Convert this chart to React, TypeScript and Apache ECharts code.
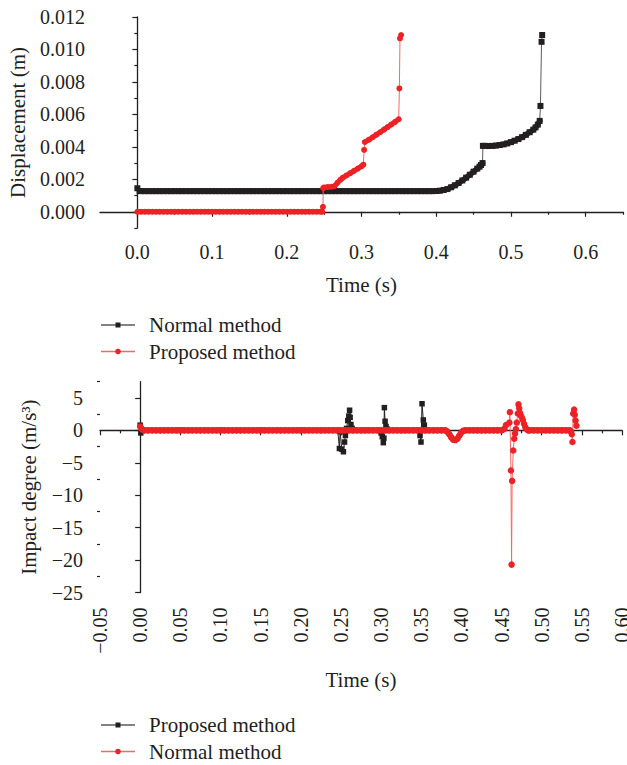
import React, { useEffect, useRef } from 'react';
import * as echarts from 'echarts';

const INK = '#231f20';
const RED = '#ec2227';
const INK_LINE = '#5a5a5a';
const RED_LINE = '#f06a6a';
const FONT = '"Liberation Serif", "DejaVu Serif", serif';

type Pt = [number, number];

// ---------- Top chart: displacement (m) vs time (s), normal method ----------
const dispNormalStart: Pt[] = [[0, 0.00145]];
const dispNormalLower: Pt[] = [
  [0.003, 0.00128],
  [0.005, 0.00127], [0.01, 0.00127], [0.015, 0.00127], [0.02, 0.00127], [0.025, 0.00127], [0.03, 0.00127], [0.035, 0.00127], [0.04, 0.00127], [0.045, 0.00127], [0.05, 0.00127],
  [0.055, 0.00127], [0.06, 0.00127], [0.065, 0.00127], [0.07, 0.00127], [0.075, 0.00127], [0.08, 0.00127], [0.085, 0.00127], [0.09, 0.00127], [0.095, 0.00127], [0.1, 0.00127],
  [0.105, 0.00127], [0.11, 0.00127], [0.115, 0.00127], [0.12, 0.00127], [0.125, 0.00127], [0.13, 0.00127], [0.135, 0.00127], [0.14, 0.00127], [0.145, 0.00127], [0.15, 0.00127],
  [0.155, 0.00127], [0.16, 0.00127], [0.165, 0.00127], [0.17, 0.00127], [0.175, 0.00127], [0.18, 0.00127], [0.185, 0.00127], [0.19, 0.00127], [0.195, 0.00127], [0.2, 0.00127],
  [0.205, 0.00127], [0.21, 0.00127], [0.215, 0.00127], [0.22, 0.00127], [0.225, 0.00127], [0.23, 0.00127], [0.235, 0.00127], [0.24, 0.00127], [0.245, 0.00127], [0.25, 0.00127],
  [0.255, 0.00127], [0.26, 0.00127], [0.265, 0.00127], [0.27, 0.00127], [0.275, 0.00127], [0.28, 0.00127], [0.285, 0.00127], [0.29, 0.00127], [0.295, 0.00127], [0.3, 0.00127],
  [0.305, 0.00127], [0.31, 0.00127], [0.315, 0.00127], [0.32, 0.00127], [0.325, 0.00127], [0.33, 0.00127], [0.335, 0.00127], [0.34, 0.00127], [0.345, 0.00127], [0.35, 0.00127],
  [0.355, 0.00127], [0.36, 0.00127], [0.365, 0.00127], [0.37, 0.00127], [0.375, 0.00127], [0.38, 0.00127], [0.385, 0.00127], [0.39, 0.00127], [0.395, 0.00127],
  [0.4, 0.00128], [0.405, 0.0013], [0.41, 0.00134], [0.415, 0.0014], [0.42, 0.00151], [0.425, 0.00163], [0.43, 0.00177], [0.435, 0.00193], [0.44, 0.0021], [0.445, 0.00228],
  [0.45, 0.00247], [0.455, 0.00266], [0.458, 0.00278], [0.46, 0.00288], [0.462, 0.003],
];
const dispNormalUpper: Pt[] = [
  [0.4625, 0.00406], [0.465, 0.00406], [0.47, 0.00405], [0.475, 0.00406], [0.48, 0.00408], [0.485, 0.00411], [0.49, 0.00415], [0.495, 0.00421], [0.5, 0.00429],
  [0.505, 0.00438], [0.51, 0.00448], [0.515, 0.0046], [0.52, 0.00474], [0.525, 0.0049], [0.53, 0.00506], [0.533, 0.0052], [0.536, 0.00537], [0.5385, 0.0056],
];
const dispNormalJump: Pt[] = [[0.5395, 0.00652], [0.541, 0.01047], [0.5418, 0.01089]];

// ---------- Top chart: proposed method ----------
const dispProposedBase: Pt[] = [
  [0, 0], [0.005, 0], [0.01, 0], [0.015, 0], [0.02, 0], [0.025, 0], [0.03, 0], [0.035, 0], [0.04, 0], [0.045, 0], [0.05, 0],
  [0.055, 0], [0.06, 0], [0.065, 0], [0.07, 0], [0.075, 0], [0.08, 0], [0.085, 0], [0.09, 0], [0.095, 0], [0.1, 0],
  [0.105, 0], [0.11, 0], [0.115, 0], [0.12, 0], [0.125, 0], [0.13, 0], [0.135, 0], [0.14, 0], [0.145, 0], [0.15, 0],
  [0.155, 0], [0.16, 0], [0.165, 0], [0.17, 0], [0.175, 0], [0.18, 0], [0.185, 0], [0.19, 0], [0.195, 0], [0.2, 0],
  [0.205, 0], [0.21, 0], [0.215, 0], [0.22, 0], [0.225, 0], [0.23, 0], [0.235, 0], [0.24, 0], [0.245, 0], [0.2475, 0],
];
const dispProposedJump1: Pt[] = [[0.2484, 0.0003]];
const dispProposedMid: Pt[] = [
  [0.2488, 0.00146], [0.25, 0.0015], [0.255, 0.00152], [0.26, 0.00154], [0.264, 0.00158],
  [0.268, 0.0018], [0.272, 0.00198], [0.275, 0.0021], [0.28, 0.00224], [0.285, 0.00238], [0.29, 0.00252], [0.295, 0.00266], [0.3, 0.0028], [0.3025, 0.0029],
];
const dispProposedJump2: Pt[] = [[0.3035, 0.00381]];
const dispProposedUpper: Pt[] = [
  [0.3045, 0.0043], [0.31, 0.00444], [0.315, 0.00459], [0.32, 0.00475], [0.325, 0.0049], [0.33, 0.00506], [0.335, 0.00522],
  [0.34, 0.00538], [0.345, 0.00554], [0.3498, 0.0057],
];
const dispProposedJump3: Pt[] = [[0.3507, 0.0076], [0.3515, 0.01068], [0.353, 0.01089]];

// ---------- Bottom chart: impact degree (m/s^3), proposed method ----------
const impactProposed: Pt[] = [
  [0, 0.8], [0.0008, -0.4], [0.004, 0], [0.05, 0], [0.1, 0], [0.15, 0], [0.2, 0], [0.246, 0],
  [0.2481, -2.8], [0.249, -0.2], [0.251, -2.9], [0.2531, -3.3], [0.2545, -1.8], [0.2556, -0.8], [0.257, 0.3],
  [0.2585, 1.5], [0.2598, 2.2], [0.2608, 3.1], [0.2615, 2.0], [0.2625, 0.9], [0.264, 0.3], [0.266, 0],
  [0.28, 0], [0.298, 0], [0.3, -0.4], [0.3015, -1.0], [0.3028, -1.9], [0.3035, -1.2], [0.3041, 3.5], [0.305, 1.4],
  [0.3062, 0.6], [0.3075, 0.2], [0.309, 0],
  [0.33, 0], [0.346, 0], [0.3485, -0.8], [0.3497, -1.8], [0.351, 4.1], [0.3526, 1.6], [0.3539, 0.8], [0.3555, 0],
];

// ---------- Bottom chart: normal method ----------
const impactNormalStart: Pt[] = [[0, 0.6], [0.0015, 0.3], [0.003, 0.1]];
const impactNormalBase: Pt[] = [
  [0.005, 0], [0.01, 0], [0.015, 0], [0.02, 0], [0.025, 0], [0.03, 0], [0.035, 0], [0.04, 0], [0.045, 0], [0.05, 0],
  [0.055, 0], [0.06, 0], [0.065, 0], [0.07, 0], [0.075, 0], [0.08, 0], [0.085, 0], [0.09, 0], [0.095, 0], [0.1, 0],
  [0.105, 0], [0.11, 0], [0.115, 0], [0.12, 0], [0.125, 0], [0.13, 0], [0.135, 0], [0.14, 0], [0.145, 0], [0.15, 0],
  [0.155, 0], [0.16, 0], [0.165, 0], [0.17, 0], [0.175, 0], [0.18, 0], [0.185, 0], [0.19, 0], [0.195, 0], [0.2, 0],
  [0.205, 0], [0.21, 0], [0.215, 0], [0.22, 0], [0.225, 0], [0.23, 0], [0.235, 0], [0.24, 0], [0.245, 0], [0.25, 0],
  [0.255, 0], [0.26, 0], [0.265, 0], [0.27, 0], [0.275, 0], [0.28, 0], [0.285, 0], [0.29, 0], [0.295, 0], [0.3, 0],
  [0.305, 0], [0.31, 0], [0.315, 0], [0.32, 0], [0.325, 0], [0.33, 0], [0.335, 0], [0.34, 0], [0.345, 0], [0.35, 0],
  [0.355, 0], [0.36, 0], [0.365, 0], [0.37, 0], [0.375, 0], [0.38, 0],
  [0.3825, -0.2], [0.385, -0.6], [0.3875, -1.1], [0.39, -1.45], [0.3925, -1.5], [0.395, -1.3], [0.3975, -0.8], [0.4, -0.3], [0.4025, -0.05], [0.405, 0],
  [0.41, 0], [0.415, 0], [0.42, 0], [0.425, 0], [0.43, 0], [0.435, 0], [0.44, 0], [0.445, 0], [0.45, 0], [0.4535, 0.2],
];
const impactNormalSpike: Pt[] = [
  [0.4555, 0.8], [0.4598, 1.2], [0.4604, 2.8], [0.4617, -6.2], [0.4625, -20.7], [0.4632, -7.8], [0.4646, -3.1],
  [0.4658, -1.3], [0.4668, -0.5], [0.4679, 0.2], [0.469, 1.2], [0.4702, 2.6], [0.4711, 4.0], [0.472, 3.4], [0.4729, 2.7],
  [0.474, 2.3], [0.4752, 2.0], [0.4765, 1.6], [0.478, 1.0], [0.4795, 0.5], [0.481, 0.2],
];
const impactNormalTail: Pt[] = [
  [0.483, 0], [0.485, 0], [0.49, 0], [0.495, 0], [0.5, 0], [0.505, 0], [0.51, 0], [0.515, 0], [0.52, 0], [0.525, 0], [0.53, 0], [0.535, 0], [0.5365, -0.2],
];
const impactNormalEnd: Pt[] = [[0.5375, -0.6], [0.5383, -1.8], [0.5392, 2.6], [0.5404, 3.2], [0.5412, 2.4], [0.5422, 1.5], [0.5433, 0.7]];

// ---------- Ticks ----------
const topTimeTicks = [0, 0.1, 0.2, 0.3, 0.4, 0.5, 0.6];
const topTimeMinorTicks = [0.05, 0.15, 0.25, 0.35, 0.45, 0.55, 0.65];
const displacementTicks = [0, 0.002, 0.004, 0.006, 0.008, 0.01, 0.012];
const displacementMinorTicks = [-0.001, 0.001, 0.003, 0.005, 0.007, 0.009, 0.011];
const impactTicks = [-25, -20, -15, -10, -5, 0, 5];
const impactMinorTicks = [-22.5, -17.5, -12.5, -7.5, -2.5, 2.5, 7.5];

const topLegendLabels = ['Normal method', 'Proposed method'];
const bottomLegendLabels = ['Proposed method', 'Normal method'];

const minus = (s: string) => s.replace('-', '\u2212');

const labelStyle = { color: INK, fontFamily: FONT, fontSize: 20 };
const nameStyle = { color: INK, fontFamily: FONT, fontSize: 21 };
const axisLine = { show: true, lineStyle: { color: INK, width: 1.3 } };

function legendGraphic(labels: string[], styles: { color: string; line: string; marker: string }[], y0: number) {
  const els: any[] = [];
  labels.forEach((label, i) => {
    const y = y0 + i * 26.5;
    const st = styles[i];
    els.push({ type: 'line', shape: { x1: 101, y1: y, x2: 135, y2: y }, style: { stroke: st.line, lineWidth: 1.5 } });
    if (st.marker === 'rect') {
      els.push({ type: 'rect', shape: { x: 115.5, y: y - 2.5, width: 5, height: 5 }, style: { fill: st.color } });
    } else {
      els.push({ type: 'circle', shape: { cx: 118, cy: y, r: 2.8 }, style: { fill: st.color } });
    }
    els.push({
      type: 'text', x: 149, y, style: { text: label, fill: INK, font: `21px ${FONT}`, verticalAlign: 'middle' },
    });
  });
  return els;
}

// thin connecting line + dense "band" for runs of closely spaced samples + every sample marker
function methodSeries(
  name: string, parts: Pt[][], bands: Pt[][], axis: number,
  symbol: string, size: number, bandWidth: number, color: string, lineColor: string, z: number,
) {
  const all = ([] as Pt[]).concat(...parts);
  const out: any[] = [
    {
      name, type: 'line', xAxisIndex: axis, yAxisIndex: axis, data: all,
      showSymbol: false, symbol: 'none', lineStyle: { color: lineColor, width: 1 }, z,
    },
  ];
  bands.forEach((b) => {
    out.push({
      name, type: 'line', xAxisIndex: axis, yAxisIndex: axis, data: b,
      showSymbol: false, symbol: 'none', lineStyle: { color, width: bandWidth, cap: 'round', join: 'round' }, z,
    });
  });
  out.push({
    name, type: 'scatter', xAxisIndex: axis, yAxisIndex: axis, data: all,
    symbol, symbolSize: size, itemStyle: { color, opacity: 1 }, z: z + 1,
  });
  return out;
}

export default function App() {
  const ref = useRef<HTMLDivElement>(null);
  useEffect(() => {
    if (!ref.current) return;
    const chart = echarts.init(ref.current, undefined, { renderer: 'svg' });
    const option: any = {
      animation: false,
      backgroundColor: '#ffffff',
      grid: [
        { left: 100, top: 17, width: 523, height: 211, containLabel: false, outerBoundsMode: 'none' },
        { left: 100, top: 381.7, width: 522, height: 210.8, containLabel: false, outerBoundsMode: 'none' },
      ],
      xAxis: [
        {
          gridIndex: 0, type: 'value', min: -0.05, max: 0.65, position: 'bottom',
          axisLine,
          axisTick: { show: true, inside: false, length: 5, customValues: topTimeTicks, lineStyle: { color: INK, width: 1.2 } },
          axisLabel: { ...labelStyle, margin: 14, customValues: topTimeTicks, formatter: (v: number) => v.toFixed(1) },
          splitLine: { show: false },
          name: 'Time (s)', nameLocation: 'middle', nameGap: 46, nameTextStyle: nameStyle,
        },
        {
          gridIndex: 0, type: 'value', min: -0.05, max: 0.65, position: 'bottom',
          axisLine: { show: false },
          axisTick: { show: true, inside: false, length: 3, customValues: topTimeMinorTicks, lineStyle: { color: INK, width: 1.2 } },
          axisLabel: { show: false },
          splitLine: { show: false },
        },
        {
          gridIndex: 1, type: 'value', min: -0.05, max: 0.6, interval: 0.05, position: 'bottom',
          axisLine,
          axisTick: { show: true, inside: false, length: 5, lineStyle: { color: INK, width: 1.2 } },
          minorTick: { show: true, splitNumber: 2, length: 3, lineStyle: { color: INK, width: 1.2 } },
          axisLabel: { ...labelStyle, margin: 15, rotate: 90, formatter: (v: number) => minus(v.toFixed(2)) },
          splitLine: { show: false },
          name: 'Time (s)', nameLocation: 'middle', nameGap: 77, nameTextStyle: nameStyle,
        },
      ],
      yAxis: [
        {
          gridIndex: 0, type: 'value', min: -0.001, max: 0.012, position: 'left',
          axisLine,
          axisTick: { show: true, inside: false, length: 5, customValues: displacementTicks, lineStyle: { color: INK, width: 1.2 } },
          axisLabel: { ...labelStyle, margin: 15, customValues: displacementTicks, formatter: (v: number) => v.toFixed(3) },
          splitLine: { show: false },
          name: 'Displacement (m)', nameLocation: 'middle', nameGap: 72, nameTextStyle: nameStyle,
        },
        {
          gridIndex: 0, type: 'value', min: -0.001, max: 0.012, position: 'left',
          axisLine: { show: false },
          axisTick: { show: true, inside: false, length: 3, customValues: displacementMinorTicks, lineStyle: { color: INK, width: 1.2 } },
          axisLabel: { show: false },
          splitLine: { show: false },
        },
        {
          gridIndex: 1, type: 'value', min: -25, max: 7.5, position: 'left',
          axisLine,
          axisTick: { show: true, inside: false, length: 5, customValues: impactTicks, lineStyle: { color: INK, width: 1.2 } },
          axisLabel: { ...labelStyle, margin: 17, customValues: impactTicks, formatter: (v: number) => minus(String(v)) },
          splitLine: { show: false },
          name: 'Impact degree (m/s\u00b3)', nameLocation: 'middle', nameGap: 61, nameTextStyle: nameStyle,
        },
        {
          gridIndex: 1, type: 'value', min: -25, max: 7.5, position: 'left',
          axisLine: { show: false },
          axisTick: { show: true, inside: false, length: 3, customValues: impactMinorTicks, lineStyle: { color: INK, width: 1.2 } },
          axisLabel: { show: false },
          splitLine: { show: false },
        },
      ],
      series: [
        ...methodSeries('Normal method',
          [dispNormalStart, dispNormalLower, dispNormalUpper, dispNormalJump],
          [dispNormalLower, dispNormalUpper], 0, 'rect', 6, 5.5, INK, INK_LINE, 2),
        ...methodSeries('Proposed method',
          [dispProposedBase, dispProposedJump1, dispProposedMid, dispProposedJump2, dispProposedUpper, dispProposedJump3],
          [dispProposedBase, dispProposedMid, dispProposedUpper], 0, 'circle', 6, 5, RED, RED_LINE, 4),
        ...methodSeries('Proposed method ',
          [impactProposed], [], 2, 'rect', 5.5, 0, INK, INK, 2),
        ...methodSeries('Normal method ',
          [impactNormalStart, impactNormalBase, impactNormalSpike, impactNormalTail, impactNormalEnd],
          [impactNormalBase, impactNormalTail], 2, 'circle', 6.5, 6, RED, RED_LINE, 4),
      ],
      graphic: [
        ...legendGraphic(topLegendLabels, [
          { color: INK, line: INK_LINE, marker: 'rect' },
          { color: RED, line: RED_LINE, marker: 'circle' },
        ], 325),
        ...legendGraphic(bottomLegendLabels, [
          { color: INK, line: INK_LINE, marker: 'rect' },
          { color: RED, line: RED_LINE, marker: 'circle' },
        ], 725),
      ],
    };
    chart.setOption(option);
    return () => chart.dispose();
  }, []);
  return (
    <div
      ref={ref}
      style={{ position: 'fixed', left: 0, top: 0, width: 627, height: 765, background: '#fff' }}
    />
  );
}
